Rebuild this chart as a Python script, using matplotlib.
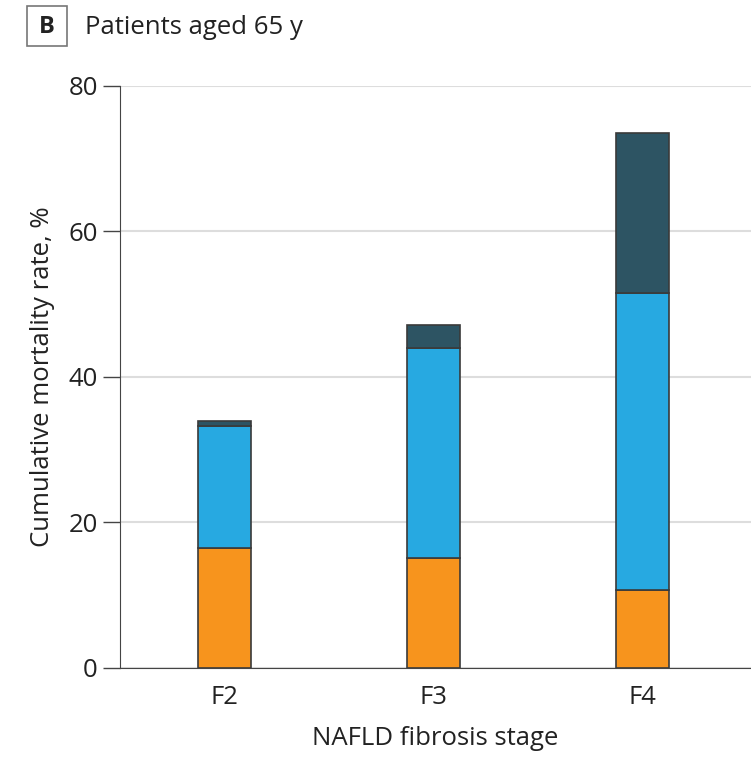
import numpy as np
import matplotlib
matplotlib.use("Agg")
import matplotlib.pyplot as plt
from matplotlib.patches import Rectangle

stages = ["F2", "F3", "F4"]
seg_orange = [16.5, 15.1, 10.7]
seg_blue = [16.8, 28.9, 40.8]
seg_dark = [0.7, 3.1, 22.0]

plt.rcParams["font.family"] = ["Open Sans", "DejaVu Sans"]

fig = plt.figure(figsize=(7.51, 7.57), dpi=100)
ax = fig.add_axes([0.16, 0.1176, 0.84, 0.7688])

x = np.arange(len(stages))
w = 0.257
edge = "#3a3a3a"
b1 = np.array(seg_orange)
b2 = b1 + np.array(seg_blue)
ax.bar(x, seg_orange, w, color="#F7941D", edgecolor=edge, lw=1.2, zorder=3)
ax.bar(x, seg_blue, w, bottom=b1, color="#27A9E1", edgecolor=edge, lw=1.2, zorder=3)
ax.bar(x, seg_dark, w, bottom=b2, color="#2D5463", edgecolor=edge, lw=1.2, zorder=3)

ax.set_xlim(-0.5, 2.52)
ax.set_ylim(0, 80)
ax.set_yticks([0, 20, 40, 60, 80])
ax.set_xticks(x)
ax.set_xticklabels(stages)
ax.yaxis.grid(True, color="#dddddd", lw=1.5, zorder=0)
for s in ["top", "right"]:
    ax.spines[s].set_visible(False)
ax.spines["left"].set_color("#444444")
ax.spines["bottom"].set_color("#444444")
ax.tick_params(axis="y", length=12, width=1, color="#444444", labelsize=18.5, colors="#222222", pad=4)
ax.tick_params(axis="x", length=0, labelsize=18.5, colors="#222222", pad=12)
ax.set_ylabel("Cumulative mortality rate, %", fontsize=18.5, color="#222222", labelpad=10)
ax.set_xlabel("NAFLD fibrosis stage", fontsize=18.5, color="#222222", labelpad=12)

fig.patches.append(Rectangle((27 / 751, 1 - 46 / 757), 40 / 751, 40 / 757,
                             transform=fig.transFigure, fill=False, ec="#777777", lw=1.2))
fig.text(47 / 751, 1 - 27 / 757, "B", ha="center", va="center", fontsize=17,
         fontweight="bold", color="#222222")
fig.text(85 / 751, 1 - 27 / 757, "Patients aged 65 y", ha="left", va="center",
         fontsize=18.5, color="#222222")

fig.savefig("out.png", dpi=100, facecolor="white")
